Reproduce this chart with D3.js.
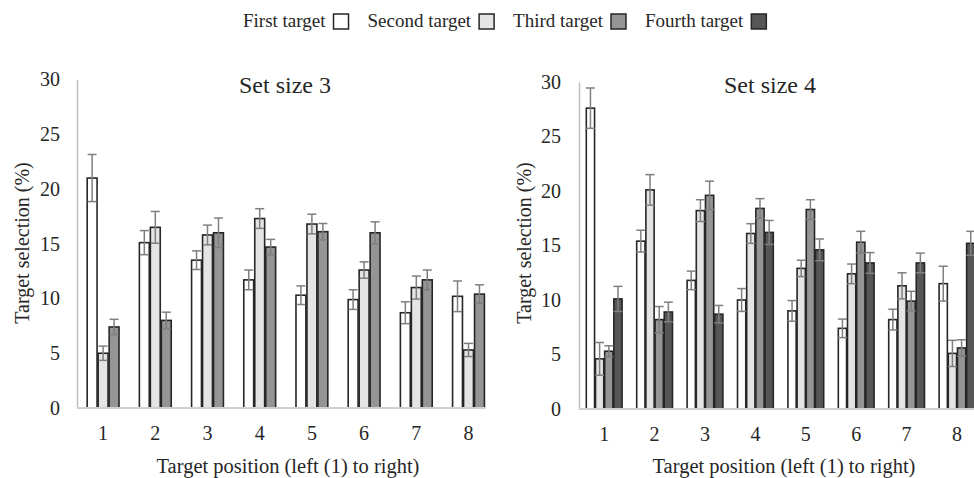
<!DOCTYPE html>
<html>
<head>
<meta charset="utf-8">
<script src="https://cdn.jsdelivr.net/npm/d3@7"></script>
<style>
  body { margin: 0; background: #fff; }
  text { font-family: "Liberation Serif", "Times New Roman", serif; fill: #262626; }
</style>
</head>
<body>
<svg width="974" height="478"></svg>
<script>
// data
const positions = ["1", "2", "3", "4", "5", "6", "7", "8"];
const yTicks = [0, 5, 10, 15, 20, 25, 30];
const seriesNames = ["First target", "Second target", "Third target", "Fourth target"];

// set size 3
const set3First = [21.0, 15.1, 13.5, 11.7, 10.3, 9.9, 8.7, 10.2];
const set3FirstErr = [2.15, 1.1, 0.85, 0.9, 0.85, 0.9, 1.0, 1.4];
const set3Second = [5.0, 16.5, 15.8, 17.3, 16.8, 12.6, 11.0, 5.3];
const set3SecondErr = [0.65, 1.45, 0.9, 0.9, 0.9, 0.75, 1.05, 0.6];
const set3Third = [7.4, 8.0, 16.0, 14.7, 16.1, 16.0, 11.7, 10.4];
const set3ThirdErr = [0.7, 0.75, 1.35, 0.7, 0.75, 1.0, 0.9, 0.85];

// set size 4
const set4First = [27.6, 15.4, 11.8, 10.0, 9.0, 7.4, 8.2, 11.5];
const set4FirstErr = [1.85, 1.0, 0.85, 1.05, 0.95, 0.85, 0.95, 1.6];
const set4Second = [4.6, 20.1, 18.2, 16.1, 12.9, 12.4, 11.3, 5.1];
const set4SecondErr = [1.5, 1.4, 1.0, 0.9, 0.75, 0.9, 1.2, 1.2];
const set4Third = [5.3, 8.2, 19.6, 18.4, 18.3, 15.3, 9.9, 5.6];
const set4ThirdErr = [0.5, 1.2, 1.3, 0.9, 0.9, 1.0, 0.9, 0.75];
const set4Fourth = [10.1, 8.9, 8.7, 16.2, 14.6, 13.4, 13.4, 15.2];
const set4FourthErr = [1.15, 0.9, 0.8, 1.1, 1.0, 0.95, 0.9, 1.1];

const fills = ["#ffffff", "#e4e4e4", "#959595", "#565656"];
const color = d3.scaleOrdinal().domain(seriesNames).range(fills);

const svg = d3.select("svg");

function drawPanel(p) {
  const g = svg.append("g");
  const y = d3.scaleLinear().domain([0, 30]).range([p.yBottom, p.yTop]);
  const x0 = d3
    .scaleBand()
    .domain(positions)
    .range([p.xStart, p.xStart + p.step * positions.length])
    .paddingInner(p.pad)
    .paddingOuter(p.pad / 2);
  const names = p.series.map((s) => s.name);
  const x1 = d3.scaleBand().domain(names).range([0, x0.bandwidth()]).paddingInner(0.1);

  // y axis
  const ya = g
    .append("g")
    .attr("transform", `translate(${p.xStart},0)`)
    .call(d3.axisLeft(y).tickValues(yTicks).tickSize(0).tickSizeOuter(0).tickPadding(p.yTickPad));
  ya.select(".domain").attr("stroke", "#bfbfbf").attr("stroke-width", 1.5);
  ya.selectAll("text").style("font-size", "20px").attr("fill", "#262626");

  // x axis
  const xa = g
    .append("g")
    .attr("transform", `translate(0,${p.yBottom})`)
    .call(d3.axisBottom(x0).tickSize(0).tickPadding(p.xTickPad));
  xa.select(".domain").remove();
  xa.selectAll("text").style("font-size", "20px").attr("fill", "#262626");

  // bars
  const rows = [];
  p.series.forEach((s) => {
    s.values.forEach((v, i) => rows.push({ name: s.name, pos: positions[i], v, e: s.err[i] }));
  });

  g.selectAll(".bar")
    .data(rows)
    .enter()
    .append("rect")
    .attr("class", "bar")
    .attr("x", (d) => x0(d.pos) + x1(d.name))
    .attr("y", (d) => y(d.v))
    .attr("width", x1.bandwidth())
    .attr("height", (d) => y(0) - y(d.v))
    .attr("fill", (d) => color(d.name))
    .attr("stroke", "#262626")
    .attr("stroke-width", 1.6);

  // baseline
  g.append("line")
    .attr("x1", p.xStart)
    .attr("x2", p.axisEnd)
    .attr("y1", y(0))
    .attr("y2", y(0))
    .attr("stroke", "#d0d0d0")
    .attr("stroke-width", 2);

  // error bars
  const cx = (d) => x0(d.pos) + x1(d.name) + x1.bandwidth() / 2;
  const capW = 4.5;
  const eb = g.selectAll(".err").data(rows).enter().append("g").attr("class", "err")
    .attr("stroke", "#7f7f7f").attr("stroke-width", 1.5);
  eb.append("line")
    .attr("x1", cx).attr("x2", cx)
    .attr("y1", (d) => y(d.v - d.e)).attr("y2", (d) => y(d.v + d.e));
  eb.append("line")
    .attr("x1", (d) => cx(d) - capW).attr("x2", (d) => cx(d) + capW)
    .attr("y1", (d) => y(d.v + d.e)).attr("y2", (d) => y(d.v + d.e));
  eb.append("line")
    .attr("x1", (d) => cx(d) - capW).attr("x2", (d) => cx(d) + capW)
    .attr("y1", (d) => y(d.v - d.e)).attr("y2", (d) => y(d.v - d.e));

  // titles
  g.append("text")
    .attr("x", p.titleX)
    .attr("y", 93)
    .attr("text-anchor", "middle")
    .style("font-size", "24px")
    .text(p.title);

  g.append("text")
    .attr("transform", `translate(${p.yTitleX},243) rotate(-90)`)
    .attr("dy", "0.35em")
    .attr("text-anchor", "middle")
    .style("font-size", "20px")
    .text("Target selection (%)");

  g.append("text")
    .attr("x", p.xTitleX)
    .attr("y", 466)
    .attr("dy", "0.35em")
    .attr("text-anchor", "middle")
    .style("font-size", "20.5px")
    .text("Target position (left (1) to right)");
}

drawPanel({
  title: "Set size 3",
  series: [
    { name: seriesNames[0], values: set3First, err: set3FirstErr },
    { name: seriesNames[1], values: set3Second, err: set3SecondErr },
    { name: seriesNames[2], values: set3Third, err: set3ThirdErr },
  ],
  xStart: 77, step: 52.2, pad: 0.39, axisEnd: 486,
  yBottom: 408, yTop: 79.5, yTickPad: 17, xTickPad: 18,
  titleX: 285, yTitleX: 22, xTitleX: 288,
});

drawPanel({
  title: "Set size 4",
  series: [
    { name: seriesNames[0], values: set4First, err: set4FirstErr },
    { name: seriesNames[1], values: set4Second, err: set4SecondErr },
    { name: seriesNames[2], values: set4Third, err: set4ThirdErr },
    { name: seriesNames[3], values: set4Fourth, err: set4FourthErr },
  ],
  xStart: 579, step: 50.4, pad: 0.29, axisEnd: 990,
  yBottom: 409, yTop: 82, yTickPad: 18, xTickPad: 18,
  titleX: 770, yTitleX: 524, xTitleX: 784,
});

// legend
const legend = svg.append("g").attr("class", "legend");
let lx = 0;
seriesNames.forEach((name) => {
  const t = legend.append("text")
    .attr("x", lx)
    .attr("y", 27)
    .style("font-size", "19px")
    .text(name);
  lx += t.node().getComputedTextLength() + 8;
  legend.append("rect")
    .attr("x", lx)
    .attr("y", 14)
    .attr("width", 15)
    .attr("height", 15)
    .attr("fill", color(name))
    .attr("stroke", "#262626")
    .attr("stroke-width", 1.5);
  lx += 15 + 19;
});
legend.attr("transform", `translate(243,0)`);
</script>
</body>
</html>
